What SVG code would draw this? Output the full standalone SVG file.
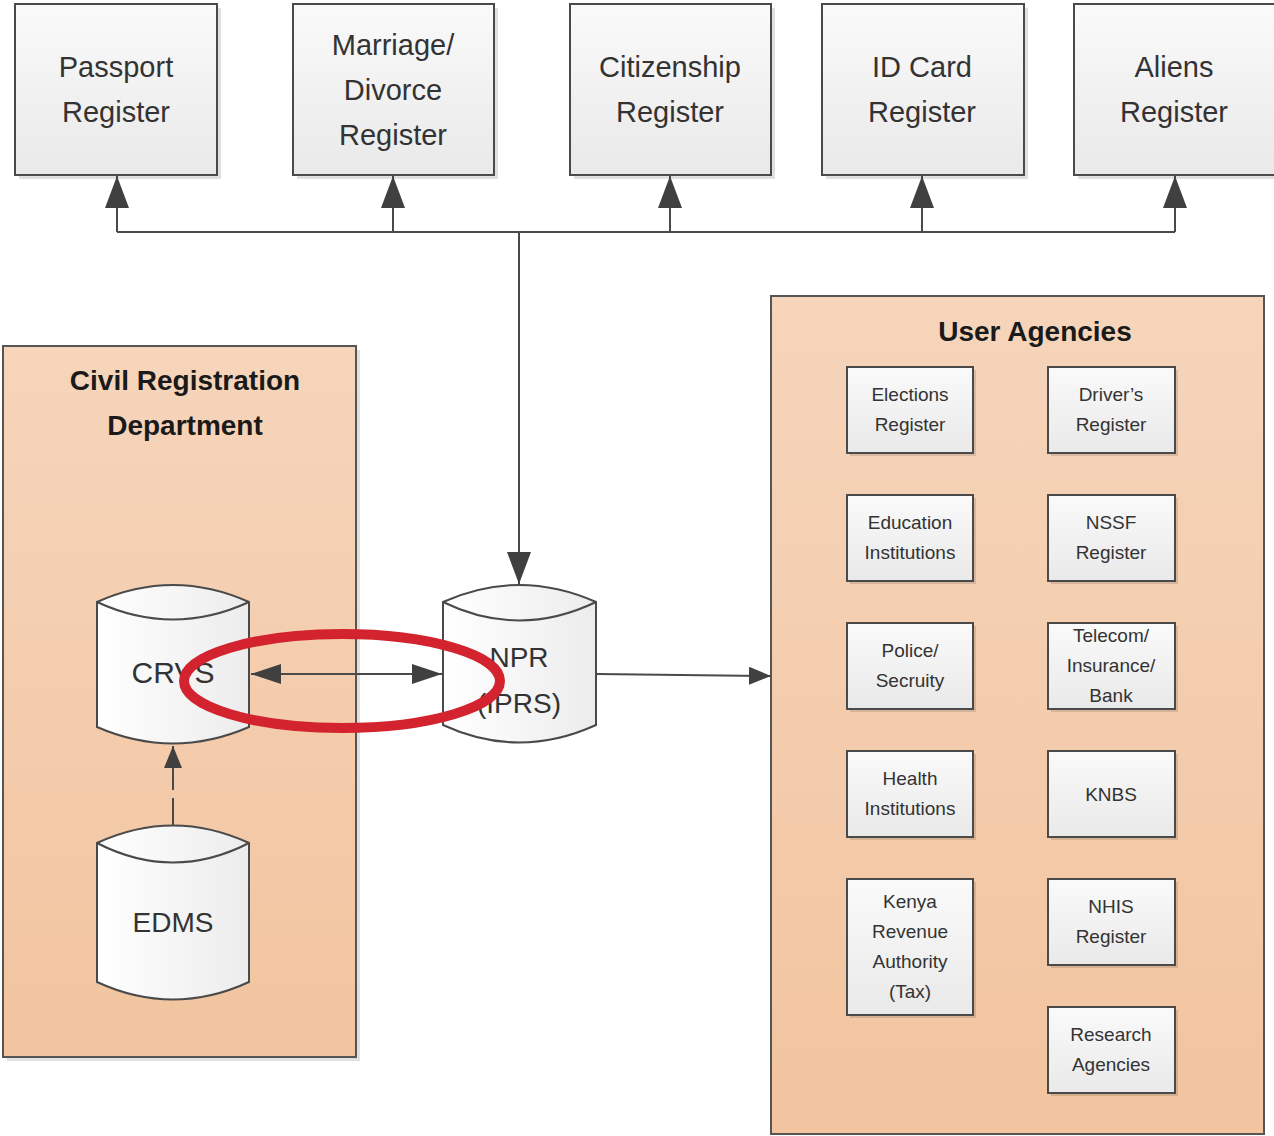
<svg xmlns="http://www.w3.org/2000/svg" width="1274" height="1136" viewBox="0 0 1274 1136">
<defs>
<linearGradient id="boxg" x1="0" y1="0" x2="0" y2="1">
<stop offset="0" stop-color="#fafafa"/><stop offset="1" stop-color="#e9e9e9"/>
</linearGradient>
<linearGradient id="cylg" x1="0" y1="0" x2="1" y2="0">
<stop offset="0" stop-color="#ffffff"/><stop offset="1" stop-color="#ececec"/>
</linearGradient>
<linearGradient id="orgg" x1="0" y1="0" x2="0" y2="1">
<stop offset="0" stop-color="#f6d5bb"/><stop offset="1" stop-color="#f2c49f"/>
</linearGradient>
<marker id="ah" viewBox="0 0 10 10" refX="10" refY="5" markerWidth="14" markerHeight="14" markerUnits="userSpaceOnUse" orient="auto-start-reverse">
<path d="M0,0 L10,5 L0,10 z" fill="#404040"/>
</marker>
<marker id="ahL" viewBox="0 0 30 20" refX="30" refY="10" markerWidth="30" markerHeight="20" markerUnits="userSpaceOnUse" orient="auto-start-reverse">
<path d="M0,0 L30,10 L0,20 z" fill="#404040"/>
</marker>
<marker id="ahV" viewBox="0 0 32 24" refX="32" refY="12" markerWidth="32" markerHeight="24" markerUnits="userSpaceOnUse" orient="auto-start-reverse">
<path d="M0,0 L32,12 L0,24 z" fill="#404040"/>
</marker>
<marker id="ahS" viewBox="0 0 22 18" refX="22" refY="9" markerWidth="22" markerHeight="18" markerUnits="userSpaceOnUse" orient="auto-start-reverse">
<path d="M0,0 L22,9 L0,18 z" fill="#404040"/>
</marker>
</defs>
<style>
.box{fill:url(#boxg);stroke:#4a4a4a;stroke-width:2}
.sh{fill:#000;opacity:0.12}
.cyl{fill:url(#cylg);stroke:#4a4a4a;stroke-width:2}
.org{fill:url(#orgg);stroke:#555;stroke-width:2}
.t{font-family:"Liberation Sans",Arial,sans-serif;fill:#333;text-anchor:middle}
.big{font-size:29px}
.sm{font-size:19px}
.ttl{font-family:"Liberation Sans",Arial,sans-serif;font-weight:bold;font-size:28px;fill:#1a1a1a;text-anchor:middle}
.ln{stroke:#4a4a4a;stroke-width:2;fill:none}
</style>
<rect x="0" y="0" width="1274" height="1136" fill="#ffffff"/>

<!-- Containers -->
<g id="civil-registration">
<rect x="7" y="350" width="353" height="711" class="sh"/>
<rect x="3" y="346" width="353" height="711" class="org"/>
<text class="ttl" x="185" y="390">Civil Registration</text>
<text class="ttl" x="185" y="435">Department</text>
</g>
<g id="user-agencies">
<rect x="771" y="296" width="493" height="838" class="org"/>
<text class="ttl" x="1035" y="341">User Agencies</text>
</g>

<!-- Top registers -->
<g id="passport">
<rect x="19" y="8" width="202" height="171" class="sh"/>
<rect x="15" y="4" width="202" height="171" class="box"/>
<text class="t big" x="116" y="77">Passport</text>
<text class="t big" x="116" y="122">Register</text>
</g>
<g id="marriage">
<rect x="297" y="8" width="201" height="171" class="sh"/>
<rect x="293" y="4" width="201" height="171" class="box"/>
<text class="t big" x="393" y="55">Marriage/</text>
<text class="t big" x="393" y="100">Divorce</text>
<text class="t big" x="393" y="145">Register</text>
</g>
<g id="citizenship">
<rect x="574" y="8" width="201" height="171" class="sh"/>
<rect x="570" y="4" width="201" height="171" class="box"/>
<text class="t big" x="670" y="77">Citizenship</text>
<text class="t big" x="670" y="122">Register</text>
</g>
<g id="idcard">
<rect x="826" y="8" width="202" height="171" class="sh"/>
<rect x="822" y="4" width="202" height="171" class="box"/>
<text class="t big" x="922" y="77">ID Card</text>
<text class="t big" x="922" y="122">Register</text>
</g>
<g id="aliens">
<rect x="1078" y="8" width="202" height="171" class="sh"/>
<rect x="1074" y="4" width="202" height="171" class="box"/>
<text class="t big" x="1174" y="77">Aliens</text>
<text class="t big" x="1174" y="122">Register</text>
</g>

<!-- Cylinders -->
<g id="crvs">
<path d="M97,602 Q173,568 249,602 L249,727 Q173,760 97,727 Z" class="cyl"/>
<path d="M97,602 Q173,637 249,602" class="ln"/>
<text class="t" x="173" y="683" style="font-size:30px">CRVS</text>
</g>
<g id="edms">
<path d="M97,843 Q173,808 249,843 L249,982 Q173,1017 97,982 Z" class="cyl"/>
<path d="M97,843 Q173,882 249,843" class="ln"/>
<text class="t" x="173" y="932" style="font-size:28px">EDMS</text>
</g>
<g id="npr">
<path d="M443,602 Q519,568 596,602 L596,725 Q519,760 443,725 Z" class="cyl"/>
<path d="M443,602 Q519,639 596,602" class="ln"/>
<text class="t" x="519" y="667" style="font-size:28px">NPR</text>
<text class="t" x="519" y="713" style="font-size:28px">(IPRS)</text>
</g>

<!-- User agency boxes -->
<g id="elections">
<rect x="850" y="370" width="126" height="86" class="sh"/>
<rect x="847" y="367" width="126" height="86" class="box"/>
<text class="t sm" x="910" y="401">Elections</text>
<text class="t sm" x="910" y="431">Register</text>
</g>
<g id="drivers">
<rect x="1051" y="370" width="127" height="86" class="sh"/>
<rect x="1048" y="367" width="127" height="86" class="box"/>
<text class="t sm" x="1111" y="401">Driver’s</text>
<text class="t sm" x="1111" y="431">Register</text>
</g>
<g id="education">
<rect x="850" y="498" width="126" height="86" class="sh"/>
<rect x="847" y="495" width="126" height="86" class="box"/>
<text class="t sm" x="910" y="529">Education</text>
<text class="t sm" x="910" y="559">Institutions</text>
</g>
<g id="nssf">
<rect x="1051" y="498" width="127" height="86" class="sh"/>
<rect x="1048" y="495" width="127" height="86" class="box"/>
<text class="t sm" x="1111" y="529">NSSF</text>
<text class="t sm" x="1111" y="559">Register</text>
</g>
<g id="police">
<rect x="850" y="626" width="126" height="86" class="sh"/>
<rect x="847" y="623" width="126" height="86" class="box"/>
<text class="t sm" x="910" y="657">Police/</text>
<text class="t sm" x="910" y="687">Secruity</text>
</g>
<g id="telecom">
<rect x="1051" y="626" width="127" height="86" class="sh"/>
<rect x="1048" y="623" width="127" height="86" class="box"/>
<text class="t sm" x="1111" y="642">Telecom/</text>
<text class="t sm" x="1111" y="672">Insurance/</text>
<text class="t sm" x="1111" y="702">Bank</text>
</g>
<g id="health">
<rect x="850" y="754" width="126" height="86" class="sh"/>
<rect x="847" y="751" width="126" height="86" class="box"/>
<text class="t sm" x="910" y="785">Health</text>
<text class="t sm" x="910" y="815">Institutions</text>
</g>
<g id="knbs">
<rect x="1051" y="754" width="127" height="86" class="sh"/>
<rect x="1048" y="751" width="127" height="86" class="box"/>
<text class="t sm" x="1111" y="801">KNBS</text>
</g>
<g id="kra">
<rect x="850" y="882" width="126" height="136" class="sh"/>
<rect x="847" y="879" width="126" height="136" class="box"/>
<text class="t sm" x="910" y="908">Kenya</text>
<text class="t sm" x="910" y="938">Revenue</text>
<text class="t sm" x="910" y="968">Authority</text>
<text class="t sm" x="910" y="998">(Tax)</text>
</g>
<g id="nhis">
<rect x="1051" y="882" width="127" height="86" class="sh"/>
<rect x="1048" y="879" width="127" height="86" class="box"/>
<text class="t sm" x="1111" y="913">NHIS</text>
<text class="t sm" x="1111" y="943">Register</text>
</g>
<g id="research">
<rect x="1051" y="1010" width="127" height="86" class="sh"/>
<rect x="1048" y="1007" width="127" height="86" class="box"/>
<text class="t sm" x="1111" y="1041">Research</text>
<text class="t sm" x="1111" y="1071">Agencies</text>
</g>

<!-- Connectors -->
<g id="connectors">
<path d="M117,232 L1175,232" class="ln"/>
<path d="M117,232 L117,176" class="ln" marker-end="url(#ahV)"/>
<path d="M393,232 L393,176" class="ln" marker-end="url(#ahV)"/>
<path d="M670,232 L670,176" class="ln" marker-end="url(#ahV)"/>
<path d="M922,232 L922,176" class="ln" marker-end="url(#ahV)"/>
<path d="M1175,232 L1175,176" class="ln" marker-end="url(#ahV)"/>
<path d="M519,232 L519,584" class="ln" marker-end="url(#ahV)"/>
<path d="M251,674 L442,674" class="ln" marker-start="url(#ahL)" marker-end="url(#ahL)"/>
<path d="M597,674 L771,676" class="ln" marker-end="url(#ahS)"/>
<path d="M173,825 L173,798 M173,790 L173,746" class="ln"/>
<path d="M173,770 L173,746" class="ln" marker-end="url(#ahS)"/>
</g>

<!-- Red highlight ellipse -->
<ellipse cx="342" cy="681" rx="158" ry="47" fill="none" stroke="#d3232e" stroke-width="10"/>
</svg>
